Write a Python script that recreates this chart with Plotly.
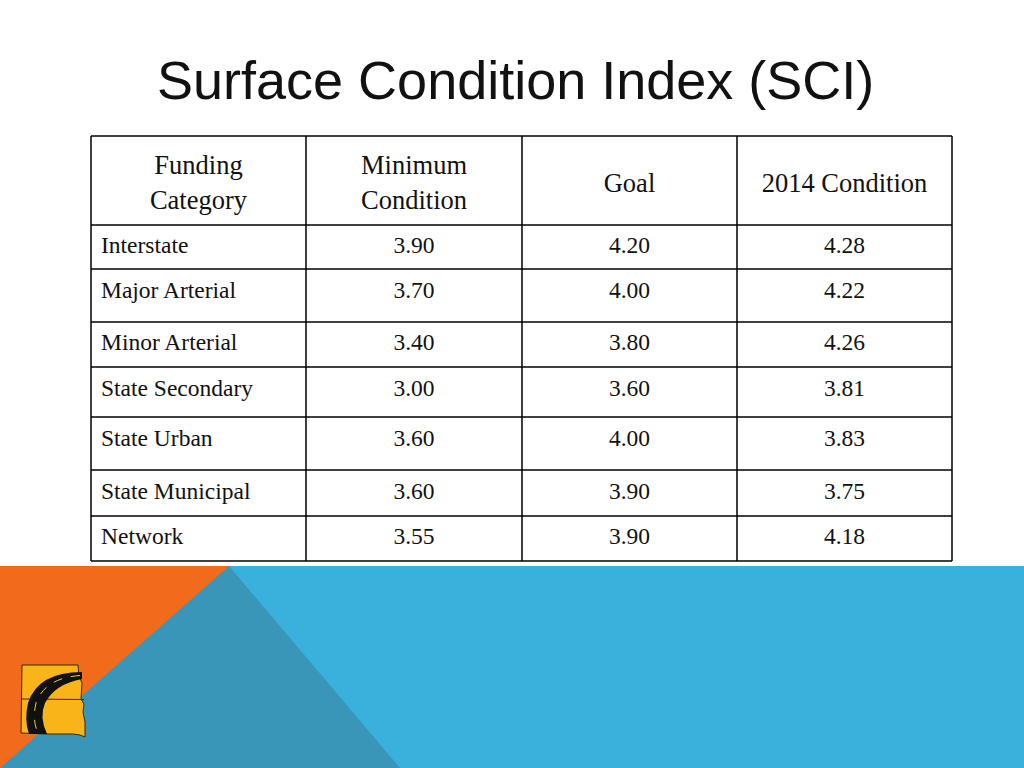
import plotly.graph_objects as go

title = "Surface Condition Index (SCI)"
headers = ["Funding<br>Category", "Minimum<br>Condition", "Goal", "2014 Condition"]
categories = ["Interstate", "Major Arterial", "Minor Arterial", "State Secondary",
              "State Urban", "State Municipal", "Network"]
min_condition = [3.90, 3.70, 3.40, 3.00, 3.60, 3.60, 3.55]
goal = [4.20, 4.00, 3.80, 3.60, 4.00, 3.90, 3.90]
cond_2014 = [4.28, 4.22, 4.26, 3.81, 3.83, 3.75, 4.18]

# layout geometry (pixels)
col_edges = [91, 306, 522, 737, 952]
row_edges = [136, 225, 269, 322, 367, 417, 470, 516, 561]
header_y = 185
row_text_y = [247, 292, 344, 390, 440, 493, 538]

fig = go.Figure()

serif = "Liberation Serif, Times New Roman, serif"

# header
centers = [(col_edges[i] + col_edges[i + 1]) / 2 for i in range(4)]
fig.add_trace(go.Scatter(x=centers, y=[header_y] * 4, text=headers, mode="text",
                         textposition="middle center",
                         textfont=dict(family=serif, size=26.5, color="#111111"),
                         hoverinfo="skip", showlegend=False))
# category column
fig.add_trace(go.Scatter(x=[col_edges[0] + 10] * len(categories), y=row_text_y, text=categories,
                         mode="text", textposition="middle right",
                         textfont=dict(family=serif, size=23.5, color="#111111"),
                         hoverinfo="skip", showlegend=False))
for ci, vals in enumerate([min_condition, goal, cond_2014], start=1):
    fig.add_trace(go.Scatter(x=[centers[ci]] * len(vals), y=row_text_y,
                             text=[f"{v:.2f}" for v in vals], mode="text",
                             textposition="middle center",
                             textfont=dict(family=serif, size=23.5, color="#111111"),
                             hoverinfo="skip", showlegend=False))

shapes = []
# bottom band
shapes.append(dict(type="rect", x0=0, x1=1024, y0=566, y1=768, fillcolor="#3AB0DD",
                   line=dict(width=0), layer="below"))
shapes.append(dict(type="path", path="M 0 566 L 229 566 L 400 768 L 0 768 Z",
                   fillcolor="#3A96B8", line=dict(width=0), layer="below"))
shapes.append(dict(type="path", path="M 0 566 L 229 566 L 0 768 Z",
                   fillcolor="#F26A1C", line=dict(width=0), layer="below"))
# logo (state outline with road)
shapes.append(dict(type="path",
                   path="M 22 665 L 78 665 L 79 676 L 82 683 L 81 699 L 84 704 L 83 712 L 85 722 L 85 737 L 80 735 L 73 734 L 45 734 L 21 733 Z",
                   fillcolor="#F8B418", line=dict(color="#3a2a00", width=1)))
shapes.append(dict(type="line", x0=22, x1=84, y0=699, y1=699.5, line=dict(color="#3a2a00", width=1)))
shapes.append(dict(type="path",
                   path="M 82 672 Q 38 672 28 703 Q 24 720 29 734 L 47 734 Q 39 717 45 703 Q 55 684 82 679 Z",
                   fillcolor="#111111", line=dict(width=0)))
shapes.append(dict(type="path", path="M 80 675.5 Q 45 678 36 703 Q 32 720 38 733",
                   line=dict(color="#F8C840", width=1, dash="dash")))

# table grid
for x in col_edges:
    shapes.append(dict(type="line", x0=x, x1=x, y0=row_edges[0], y1=row_edges[-1],
                       line=dict(color="black", width=1.5)))
for y in row_edges:
    shapes.append(dict(type="line", x0=col_edges[0], x1=col_edges[-1], y0=y, y1=y,
                       line=dict(color="black", width=1.5)))

fig.update_layout(
    width=1024, height=768,
    margin=dict(l=0, r=0, t=0, b=0),
    paper_bgcolor="white", plot_bgcolor="white",
    xaxis=dict(range=[0, 1024], visible=False, fixedrange=True),
    yaxis=dict(range=[768, 0], visible=False, fixedrange=True),
    shapes=shapes,
    annotations=[dict(text=title, x=515.5, y=80, xref="x", yref="y", showarrow=False,
                      font=dict(family="Liberation Sans, Arial, sans-serif", size=54, color="#111111"),
                      xanchor="center", yanchor="middle")],
)

fig.write_html("out.html", config={"displayModeBar": False},
               post_script="document.body.style.margin='0';document.body.style.overflow='hidden';")
